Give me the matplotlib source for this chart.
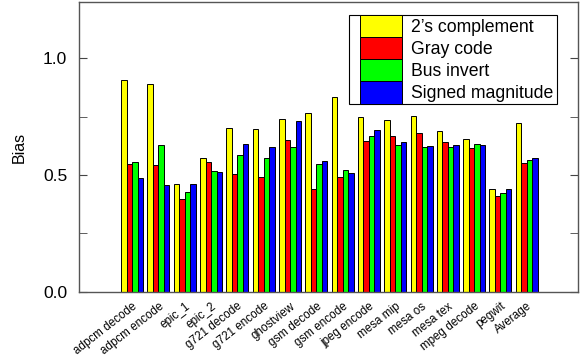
import numpy as np
import matplotlib
matplotlib.use("Agg")
import matplotlib.pyplot as plt
from matplotlib.patches import Rectangle
from matplotlib.ticker import MultipleLocator, FormatStrFormatter

plt.rcParams['font.family'] = ['Liberation Sans', 'DejaVu Sans']

benchmarks = ["adpcm decode", "adpcm encode", "epic_1", "epic_2", "g721 decode",
              "g721 encode", "ghostview", "gsm decode", "gsm encode", "jpeg encode",
              "mesa mip", "mesa os", "mesa tex", "mpeg decode", "pegwit", "Average"]

twos_complement = [0.906, 0.890, 0.463, 0.573, 0.703, 0.696, 0.740, 0.767, 0.833,
                   0.747, 0.734, 0.754, 0.687, 0.653, 0.440, 0.723]
gray_code = [0.546, 0.543, 0.397, 0.554, 0.504, 0.491, 0.650, 0.441, 0.490,
             0.644, 0.667, 0.679, 0.641, 0.614, 0.411, 0.553]
bus_invert = [0.556, 0.629, 0.427, 0.517, 0.586, 0.571, 0.619, 0.546, 0.520,
              0.666, 0.629, 0.621, 0.619, 0.631, 0.424, 0.566]
signed_magnitude = [0.486, 0.457, 0.460, 0.514, 0.631, 0.619, 0.731, 0.559, 0.511,
                    0.693, 0.640, 0.624, 0.627, 0.630, 0.440, 0.573]

series = [("2\u2019s complement", twos_complement, "#ffff00"),
          ("Gray code", gray_code, "#ff0000"),
          ("Bus invert", bus_invert, "#00ff00"),
          ("Signed magnitude", signed_magnitude, "#0000ff")]

fig = plt.figure(figsize=(5.81, 3.56), dpi=100)
ax = fig.add_axes([0.136, 0.180, 0.859, 0.814])

x = np.arange(len(benchmarks))
w = 0.209
for i, (name, vals, col) in enumerate(series):
    ax.bar(x + (i - 1.5) * w, vals, w, color=col, edgecolor="black",
           linewidth=0.7, label=name)

ax.set_xlim(-2.02, len(benchmarks) + 0.95)
ax.set_ylim(0, 1.24)
ax.yaxis.set_major_locator(MultipleLocator(0.5))
ax.yaxis.set_minor_locator(MultipleLocator(0.25))
ax.yaxis.set_major_formatter(FormatStrFormatter("%.1f"))
ax.tick_params(axis="y", which="both", direction="in", right=True,
               labelsize=12.5, length=6, pad=8.5, color="#444444")
ax.set_xticks(x)
ax.set_xticklabels(benchmarks, rotation=38, ha="right", rotation_mode="anchor",
                   fontsize=8.4)
ax.tick_params(axis="x", length=0, pad=6)
ax.set_ylabel("Bias", fontsize=11.5, labelpad=12)
for sp in ax.spines.values():
    sp.set_color("#555555")
    sp.set_linewidth(1.0)

# legend without its own frame; a wider box is drawn behind it
leg = ax.legend(loc="upper right", bbox_to_anchor=(0.950, 0.955), fontsize=12.7,
                handlelength=2.4, handleheight=1.55, labelspacing=0.0,
                handletextpad=0.5, borderpad=0.0, borderaxespad=0.0,
                frameon=False)
fig.canvas.draw()
bb = leg.get_window_extent()
pad_left, pad_right = 11, 4
box = Rectangle((bb.x0 - pad_left, bb.y0), bb.width + pad_left + pad_right, bb.height,
                transform=None, facecolor="white", edgecolor="black",
                linewidth=0.8, zorder=leg.get_zorder() - 0.1, clip_on=False)
ax.add_artist(box)

fig.savefig("out.png", dpi=100)
